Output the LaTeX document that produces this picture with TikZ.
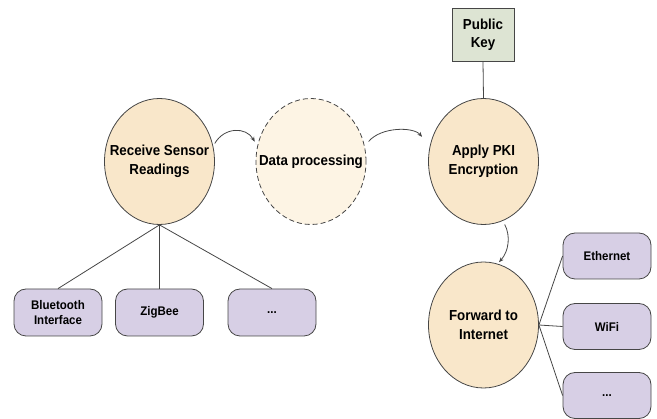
\documentclass[tikz,border=0pt]{standalone}
\usepackage{fontspec}
\setmainfont[FakeStretch=0.92]{Liberation Sans}
\usetikzlibrary{shapes.geometric}
\usetikzlibrary{arrows.meta}
\definecolor{stagefill}{RGB}{249,231,202}
\definecolor{procfill}{RGB}{253,244,228}
\definecolor{linkfill}{RGB}{215,207,229}
\definecolor{keyfill}{RGB}{221,228,211}
\definecolor{edgegray}{RGB}{70,70,70}
\tikzset{
	stage/.style={ellipse, draw=edgegray, line width=0.8pt, fill=stagefill, minimum width=110pt, minimum height=126pt, inner xsep=-16pt, inner ysep=0pt, align=center, font=\fontsize{14.5}{19}\selectfont\bfseries},
	link/.style={rectangle, rounded corners=12pt, draw=edgegray, line width=0.8pt, fill=linkfill, minimum width=88pt, minimum height=47pt, align=center, font=\fontsize{12.5}{15}\selectfont\bfseries},
	flow/.style={-{Stealth[length=5pt,width=4pt]}, draw=edgegray, line width=0.8pt},
	wire/.style={draw=edgegray, line width=0.8pt}
}

\begin{document}
\begin{tikzpicture}[x=1pt, y=-1pt]
	% page: 657 x 419, y grows downwards
	\useasboundingbox (0, 0) rectangle (657, 419);
	
	% main stages
	\node[stage] (recv) at (159.5, 161.5) {Receive Sensor\\Readings};
	\node[stage, fill=procfill, dash pattern=on 5pt off 3pt] (proc) at (311, 161.5) {Data processing};
	\node[stage] (pki) at (483.5, 161.5) {Apply PKI\\Encryption};
	\node[stage] (fwd) at (483.5, 325) {Forward to\\Internet};
	
	% key box
	\node[rectangle, draw=edgegray, line width=0.8pt, fill=keyfill, minimum width=62pt, minimum height=53pt, align=center, font=\fontsize{14.5}{18}\selectfont\bfseries] (key) at (483, 34.5) {Public\\Key};
	
	% sensor interfaces
	\node[link] (bt) at (58, 312.5) {Bluetooth\\Interface};
	\node[link] (zb) at (159.5, 312.5) {ZigBee};
	\node[link] (inmore) at (272, 312.5) {...};
	
	% network interfaces
	\node[link, minimum height=46pt] (eth) at (607, 256) {Ethernet};
	\node[link, minimum height=46pt] (wifi) at (607, 326.5) {WiFi};
	\node[link, minimum height=46pt] (outmore) at (607, 395.5) {...};
	
	% connections
	\draw[wire] (key.south) -- (pki.north);
	\draw[wire] (recv.south) -- (bt.north);
	\draw[wire] (recv.south) -- (zb.north);
	\draw[wire] (recv.south) -- (inmore.north);
	\draw[wire] (fwd.east) -- (eth.west);
	\draw[wire] (fwd.east) -- (wifi.west);
	\draw[wire] (fwd.east) -- (outmore.west);
	
	% flow arrows
	\draw[flow, shorten <=3pt, shorten >=5pt] (recv.16) to[bend left=60, looseness=1.3] (proc.164);
	\draw[flow, shorten <=6pt, shorten >=12pt] (proc.16) to[bend left=50] (pki.164);
	\draw[flow, shorten <=4pt, shorten >=2pt] (pki.-72) to[bend left=35] (fwd.77);
\end{tikzpicture}
\end{document}
